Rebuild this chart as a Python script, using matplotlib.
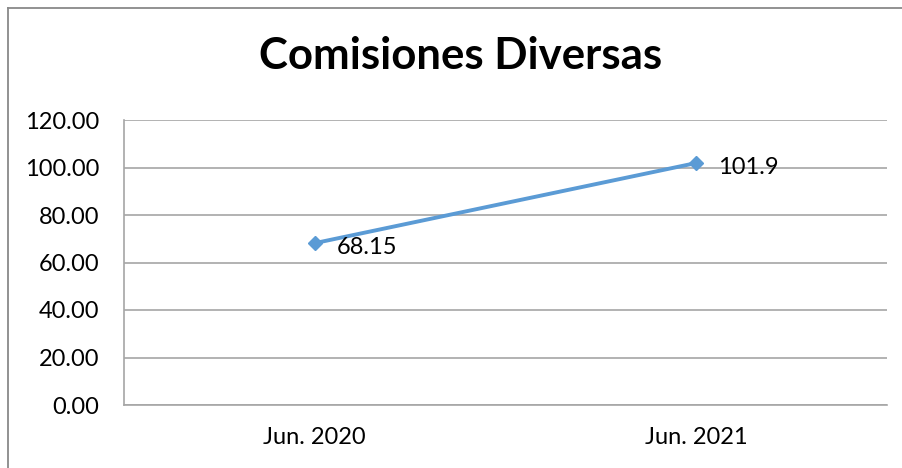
import matplotlib
matplotlib.use("Agg")
import matplotlib.pyplot as plt
from matplotlib.lines import Line2D

categories = ["Jun. 2020", "Jun. 2021"]
values = [68.15, 101.9]
value_labels = ["68.15", "101.9"]
yticks = [0, 20, 40, 60, 80, 100, 120]

W, H = 903, 468
fig = plt.figure(figsize=(W / 100, H / 100), dpi=100)
plt.rcParams['font.family'] = ['Lato', 'DejaVu Sans']

# outer chart border (left & top visible)
bx, by = 7.5 / W, 1 - 7.5 / H
fig.lines.append(Line2D([bx, bx], [0, by], transform=fig.transFigure,
                        color='#898989', linewidth=1.3))
fig.lines.append(Line2D([bx, 1], [by, by], transform=fig.transFigure,
                        color='#898989', linewidth=1.3))

left, right, top, bottom = 124, 887, 120, 405
ax = fig.add_axes([left / W, 1 - bottom / H, (right - left) / W, (bottom - top) / H])
ax.set_xlim(-0.5, 1.5)
ax.set_ylim(0, 120)
ax.set_yticks(yticks)
ax.set_yticklabels([f"{v:.2f}" for v in yticks])
ax.set_xticks(range(len(categories)))
ax.set_xticklabels(categories)
ax.grid(axis='y', color='#A6A6A6', linewidth=1.2)
ax.set_axisbelow(True)
for s in ['top', 'right']:
    ax.spines[s].set_visible(False)
ax.spines['left'].set_color('#A6A6A6')
ax.spines['bottom'].set_color('#A6A6A6')
ax.spines['left'].set_linewidth(1.2)
ax.spines['bottom'].set_linewidth(1.2)
ax.tick_params(axis='both', length=0, labelsize=17, colors='black')
ax.tick_params(axis='y', pad=18)
ax.tick_params(axis='x', pad=16)

ax.plot(range(len(values)), values, color='#5B9BD5', linewidth=2.8,
        marker='D', markersize=7.5, markerfacecolor='#5B9BD5', markeredgecolor='#5B9BD5')
for i, (v, lab) in enumerate(zip(values, value_labels)):
    ax.annotate(lab, (i, v), xytext=(16, -3), textcoords='offset points',
                ha='left', va='center', fontsize=17, color='black')

fig.text(461 / W, 1 - 56 / H, "Comisiones Diversas", ha='center', va='center',
         fontsize=31.5, fontweight='bold')

fig.savefig("out.png", dpi=100)
